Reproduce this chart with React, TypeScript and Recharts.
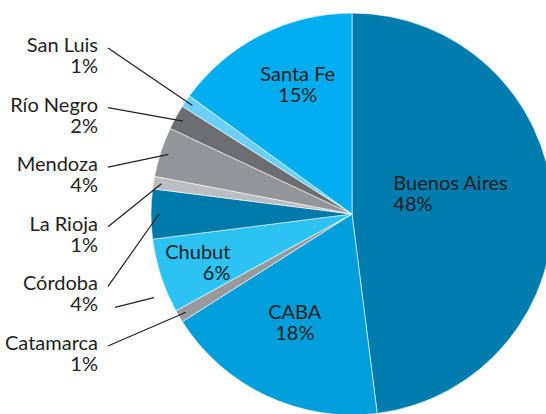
import { PieChart, Pie, Cell } from 'recharts'

const provinces = ['Buenos Aires', 'CABA', 'Catamarca', 'Chubut', 'Córdoba', 'La Rioja', 'Mendoza', 'Río Negro', 'San Luis', 'Santa Fe']
const shares = [48, 18, 1, 6, 4, 1, 4, 2, 1, 15]
const colors = ['#007cae', '#009fdb', '#97999c', '#2cc2f1', '#0079ab', '#bbbdc0', '#939598', '#6d6e72', '#6ccff6', '#00aeef']

// slices labelled inside the pie
const inside: Record<string, { r: number; da: number; anchor: 'start' | 'middle' | 'end' }> = {
  'Buenos Aires': { r: 0.23, da: 23, anchor: 'start' },
  CABA: { r: 0.61, da: -2.6, anchor: 'middle' },
  Chubut: { r: 0.65, da: 3.5, anchor: 'end' },
  'Santa Fe': { r: 0.7, da: -4.3, anchor: 'middle' },
}
// slices labelled on the left, top to bottom
const outside = ['San Luis', 'Río Negro', 'Mendoza', 'La Rioja', 'Córdoba', 'Catamarca']

const data = provinces.map((name, i) => ({ name, value: shares[i] }))

const RAD = Math.PI / 180
const ink = '#231f20'
const font = 'Lato, "Open Sans", sans-serif'

const renderLabel = (props: any) => {
  const { cx, cy, midAngle, outerRadius, index } = props
  const name = provinces[index]
  const pct = `${shares[index]}%`
  const cfg = inside[name]
  if (cfg) {
    const a = (midAngle + cfg.da) * RAD
    const x = cx + outerRadius * cfg.r * Math.cos(a)
    const y = cy - outerRadius * cfg.r * Math.sin(a)
    return (
      <g>
        <text x={x} y={y - 3} textAnchor={cfg.anchor} fill={ink} fontSize={20} fontFamily={font}>{name}</text>
        <text x={x} y={y + 18} textAnchor={cfg.anchor} fill={ink} fontSize={20} fontFamily={font}>{pct}</text>
      </g>
    )
  }
  const k = outside.indexOf(name)
  const tx = 98
  const ty = 52 + k * 59.6
  const a = midAngle * RAD
  const ex = cx + outerRadius * 0.96 * Math.cos(a)
  const ey = cy - outerRadius * 0.96 * Math.sin(a)
  // stray leader stub under Córdoba, as in the original
  const stub = name === 'Córdoba'
  const sa = -157.1 * RAD
  return (
    <g>
      <line x1={tx + 10} y1={ty - 4} x2={ex} y2={ey} stroke={ink} strokeWidth={1.2} />
      {stub && (
        <line
          x1={tx + 17}
          y1={ty + 17}
          x2={cx + outerRadius * 1.07 * Math.cos(sa)}
          y2={cy - outerRadius * 1.07 * Math.sin(sa)}
          stroke={ink}
          strokeWidth={1.2}
        />
      )}
      <text x={tx} y={ty} textAnchor="end" fill={ink} fontSize={20} fontFamily={font}>{name}</text>
      <text x={tx} y={ty + 21} textAnchor="end" fill={ink} fontSize={20} fontFamily={font}>{pct}</text>
    </g>
  )
}

export default function App() {
  return (
    <div style={{ position: 'absolute', left: 0, top: 0, width: 546, height: 414, background: '#fff', overflow: 'hidden' }}>
      <PieChart width={546} height={414} margin={{ top: 0, right: 0, bottom: 0, left: 0 }}>
        <Pie
          data={data}
          dataKey="value"
          nameKey="name"
          cx={352}
          cy={214}
          outerRadius={201}
          startAngle={90}
          endAngle={-270}
          label={renderLabel}
          labelLine={false}
          isAnimationActive={false}
        >
          {data.map((d, i) => (
            <Cell key={d.name} fill={colors[i]} stroke="#ffffff" strokeWidth={0.6} />
          ))}
        </Pie>
      </PieChart>
    </div>
  )
}
